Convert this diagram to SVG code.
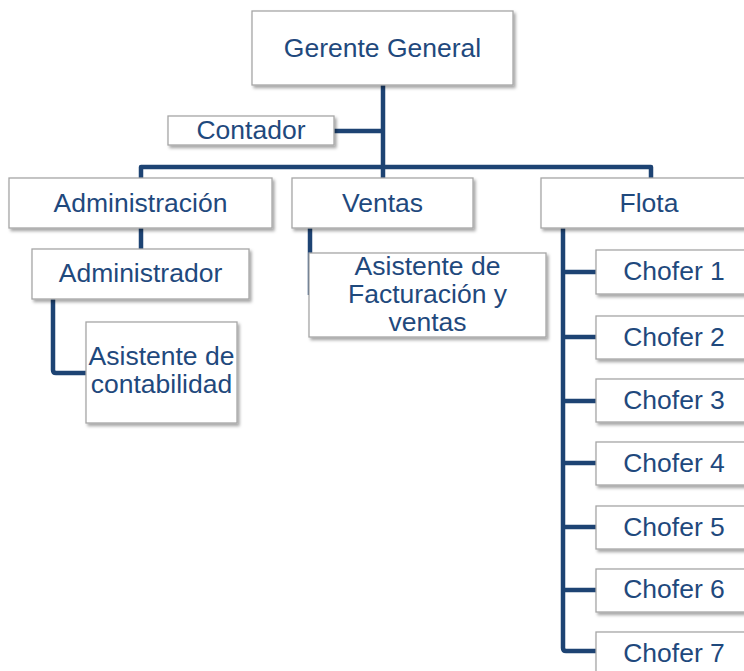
<svg xmlns="http://www.w3.org/2000/svg" width="744" height="671" viewBox="0 0 744 671">
<style>
.box{fill:#ffffff;stroke:#a6a6a6;stroke-width:1.3;filter:url(#sh)}
.t{font-family:"Liberation Sans",Arial,sans-serif;font-size:26.5px;fill:#1F497D;text-anchor:middle}
.ln{fill:none;stroke:#1D4373;stroke-width:4.5;stroke-linejoin:round}
</style>
<defs>
<filter id="sh" x="-10%" y="-10%" width="130%" height="140%">
<feDropShadow dx="2" dy="2.5" stdDeviation="1.8" flood-color="#000" flood-opacity="0.35"/>
</filter>
</defs>
<rect width="744" height="671" fill="#ffffff"/>
<g id="connectors">
<path class="ln" d="M383,85 V178"/>
<path class="ln" d="M334,131 H383"/>
<path class="ln" d="M141,178 V167 H651 V178"/>
<path class="ln" d="M141,228 V249"/>
<path class="ln" d="M53,299 V370 Q53,373 56,373 H86"/>
<path class="ln" d="M310,228 V295"/>
<path class="ln" d="M563,228 V648 Q563,651 566,651 H596"/>
<path class="ln" d="M563,272 H596 M563,337 H596 M563,401 H596 M563,463 H596 M563,527 H596 M563,590 H596"/>
</g>
<g id="gerente"><rect class="box" x="252" y="11" width="261" height="74"/><text class="t" x="382.5" y="57">Gerente General</text></g>
<g id="contador"><rect class="box" x="168" y="116" width="166" height="29"/><text class="t" x="251" y="139">Contador</text></g>
<g id="administracion"><rect class="box" x="9" y="178" width="263" height="50"/><text class="t" x="140.5" y="212">Administración</text></g>
<g id="ventas"><rect class="box" x="292" y="178" width="181" height="50"/><text class="t" x="382.5" y="212">Ventas</text></g>
<g id="flota"><rect class="box" x="541" y="178" width="216" height="50"/><text class="t" x="649" y="212">Flota</text></g>
<g id="administrador"><rect class="box" x="32" y="249" width="217" height="50"/><text class="t" x="140.5" y="282">Administrador</text></g>
<g id="asistente-contabilidad"><rect class="box" x="86" y="322" width="151" height="101"/><text class="t" x="161.5" y="365">Asistente de</text><text class="t" x="161.5" y="393">contabilidad</text></g>
<g id="asistente-facturacion"><rect class="box" x="309" y="253" width="237" height="84"/><text class="t" x="427.5" y="275">Asistente de</text><text class="t" x="427.5" y="303">Facturación y</text><text class="t" x="427.5" y="331">ventas</text></g>
<g id="chofer1"><rect class="box" x="596" y="250" width="160" height="44"/><text class="t" x="674" y="280">Chofer 1</text></g>
<g id="chofer2"><rect class="box" x="596" y="316" width="160" height="43"/><text class="t" x="674" y="346">Chofer 2</text></g>
<g id="chofer3"><rect class="box" x="596" y="379" width="160" height="43"/><text class="t" x="674" y="409">Chofer 3</text></g>
<g id="chofer4"><rect class="box" x="596" y="442" width="160" height="43"/><text class="t" x="674" y="472">Chofer 4</text></g>
<g id="chofer5"><rect class="box" x="596" y="506" width="160" height="43"/><text class="t" x="674" y="536">Chofer 5</text></g>
<g id="chofer6"><rect class="box" x="596" y="569" width="160" height="43"/><text class="t" x="674" y="598">Chofer 6</text></g>
<g id="chofer7"><rect class="box" x="596" y="632" width="160" height="43"/><text class="t" x="674" y="662">Chofer 7</text></g>
</svg>
